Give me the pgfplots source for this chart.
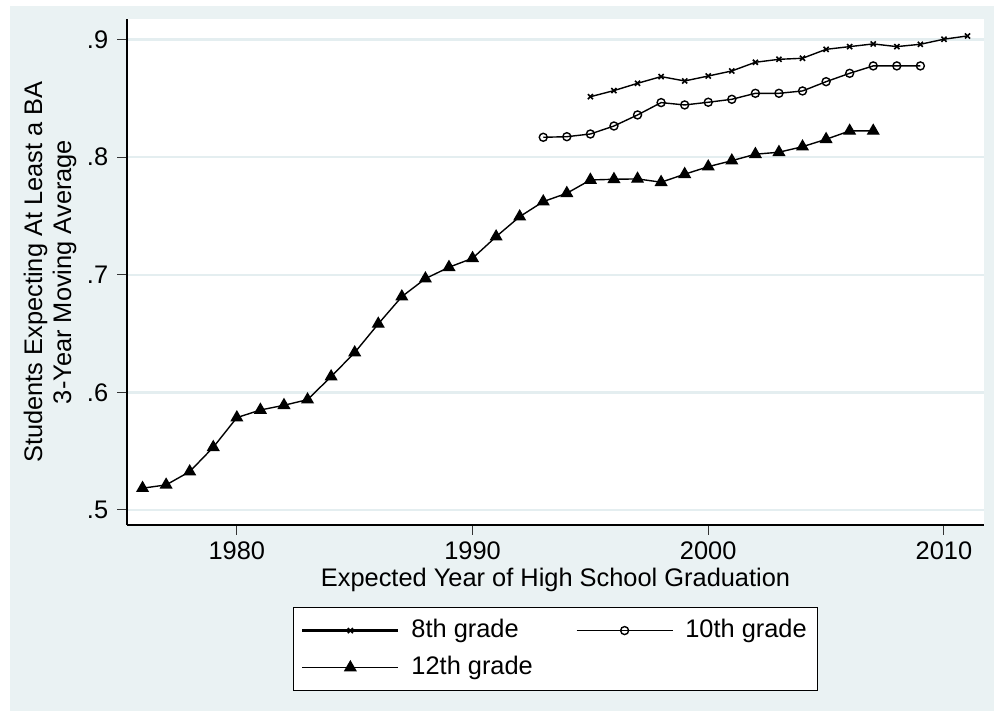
\documentclass[border=0pt]{standalone}
\usepackage{pgfplots}
\pgfplotsset{compat=1.18}
\usepackage{fontspec}
\setmainfont{Liberation Sans}
\definecolor{graphbg}{HTML}{EAF2F3}
\definecolor{gridc}{HTML}{E4EEF0}
\begin{document}
\fontsize{12.7}{13}\selectfont
\begin{tikzpicture}
\useasboundingbox (0,0) rectangle (497pt,355.5pt);
\fill[white] (0,0) rectangle (497pt,355.5pt);
\fill[graphbg] (5pt,0) rectangle (497pt,352.5pt);
\begin{axis}[
  at={(63.5pt,93pt)}, anchor=south west,
  scale only axis, width=428.5pt, height=253pt,
  xmin=1975.34, xmax=2011.70, ymin=0.4872, ymax=0.9175,
  axis background/.style={fill=white},
  axis x line*=bottom, axis y line*=left,
  axis line style={black, line width=0.6pt, -},
  xtick={1980,1990,2000,2010},
  xticklabels={1980,1990,2000,2010},
  ytick={0.5,0.6,0.7,0.8,0.9},
  yticklabels={.5,.6,.7,.8,.9},
  tick align=outside, major tick length=5pt,
  tick style={black!80, line width=0.5pt},
  ymajorgrids, grid style={gridc, line width=1.2pt},
  /pgf/number format/assume math mode=true,
  ticklabel style={font=\fontsize{12.7}{13}\selectfont},
  xticklabel style={inner sep=1pt, yshift=-2pt},
  xlabel={Expected Year of High School Graduation},
  ylabel={Students Expecting At Least a BA\\3-Year Moving Average},
  every axis y label/.style={at={(axis description cs:0,0.5)}, xshift=-38.5pt, rotate=90, anchor=center, align=center, font=\fontsize{12.7}{14.5}\selectfont},
  every axis x label/.style={at={(axis description cs:0.5,0)}, yshift=-27.5pt, anchor=center, inner sep=0pt},
  legend columns=2,
  legend cell align=left,
  legend style={at={(0.5,-0.162)}, anchor=north, draw=black, line width=0.6pt, fill=white,
    font=\fontsize{12.7}{13}\selectfont,
    inner xsep=4pt, inner ysep=4pt,
    nodes={inner sep=1.5pt, text height=9.5pt, text depth=2.5pt},
    row sep=3.5pt,
    /tikz/every odd column/.append style={column sep=4.5pt},
    /tikz/every even column/.append style={column sep=20pt}},
  legend image code/.code={\draw[mark repeat=2,mark phase=2,#1] plot coordinates {(0pt,0pt) (24pt,0pt) (48pt,0pt)};},
]
\addplot[black, line width=0.7pt, mark=x, mark size=1.8pt, mark options={line width=0.8pt},
  legend image post style={line width=1.1pt}] table {
1995 0.8514
1996 0.8566
1997 0.8628
1998 0.8685
1999 0.8648
2000 0.8690
2001 0.8733
2002 0.8807
2003 0.8832
2004 0.8841
2005 0.8917
2006 0.8940
2007 0.8963
2008 0.8940
2009 0.8960
2010 0.9003
2011 0.9031
};
\addlegendentry{8th grade}
\addplot[black, line width=0.7pt, mark=o, mark size=2pt, mark options={line width=0.7pt, fill=white}] table {
1993 0.8169
1994 0.8174
1995 0.8197
1996 0.8265
1997 0.8359
1998 0.8464
1999 0.8444
2000 0.8467
2001 0.8492
2002 0.8543
2003 0.8543
2004 0.8563
2005 0.8642
2006 0.8713
2007 0.8776
2008 0.8776
2009 0.8776
};
\addlegendentry{10th grade}
\addplot[black, line width=0.7pt, mark=triangle*, mark size=3.1pt] table {
1976 0.5185
1977 0.5213
1978 0.5326
1979 0.5533
1980 0.5785
1981 0.5850
1982 0.5890
1983 0.5938
1984 0.6134
1985 0.6338
1986 0.6582
1987 0.6814
1988 0.6967
1989 0.7064
1990 0.7140
1991 0.7324
1992 0.7494
1993 0.7622
1994 0.7693
1995 0.7806
1996 0.7812
1997 0.7815
1998 0.7787
1999 0.7855
2000 0.7919
2001 0.7970
2002 0.8025
2003 0.8042
2004 0.8089
2005 0.8152
2006 0.8223
2007 0.8223
};
\addlegendentry{12th grade}
\end{axis}
\end{tikzpicture}
\end{document}
